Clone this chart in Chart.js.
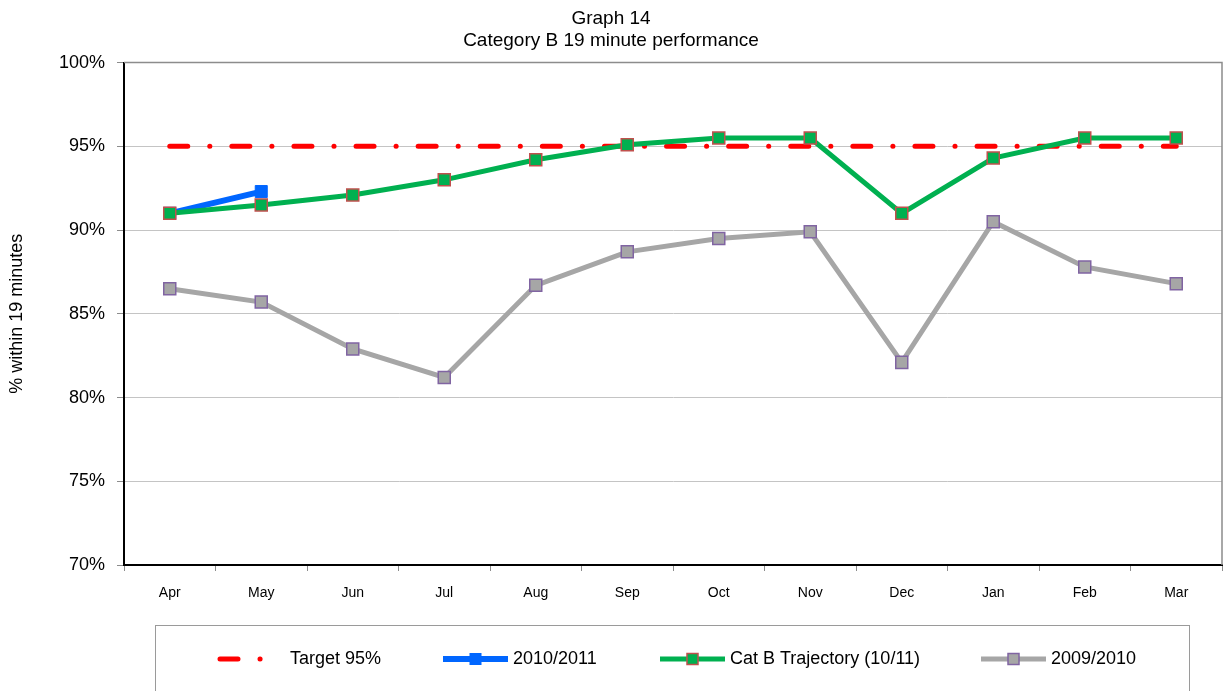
<!DOCTYPE html>
<html>
<head>
<meta charset="utf-8">
<script src="https://cdn.jsdelivr.net/npm/chart.js@4.4.1/dist/chart.umd.min.js"></script>
<style>
  html, body { margin: 0; padding: 0; background: #fff; }
  #wrap { width: 1224px; height: 691px; }
</style>
</head>
<body>
<div id="wrap"><canvas id="myChart" width="1224" height="691"></canvas></div>
<script>
// data
var months = ['Apr', 'May', 'Jun', 'Jul', 'Aug', 'Sep', 'Oct', 'Nov', 'Dec', 'Jan', 'Feb', 'Mar'];
var target = [95, 95, 95, 95, 95, 95, 95, 95, 95, 95, 95, 95];
var actual1011 = [91.0, 92.3, null, null, null, null, null, null, null, null, null, null];
var trajectory = [91.0, 91.5, 92.1, 93.0, 94.2, 95.1, 95.5, 95.5, 91.0, 94.3, 95.5, 95.5];
var actual0910 = [86.5, 85.7, 82.9, 81.2, 86.7, 88.7, 89.5, 89.9, 82.1, 90.5, 87.8, 86.8];
var yTicks = { min: 70, max: 100, step: 5 };

var FONT = 'Liberation Sans, Arial, sans-serif';

// frame + legend box drawn by hand (Excel style)
var excelBits = {
  id: 'excelBits',
  beforeDatasetsDraw: function(chart) {
    var a = chart.chartArea, c = chart.ctx;
    c.save();
    c.strokeStyle = '#8c8c8c';
    c.lineWidth = 1.5;
    c.beginPath();
    c.moveTo(a.left, a.top);
    c.lineTo(a.right, a.top);
    c.lineTo(a.right, a.bottom);
    c.stroke();
    c.restore();
  },
  afterDraw: function(chart) {
    var c = chart.ctx;
    c.save();
    c.strokeStyle = '#9a9a9a';
    c.lineWidth = 1;
    c.strokeRect(155.5, 625.5, 1034, 80);

    var starts = [220, 443, 660, 981];
    var y = 659;
    chart.data.datasets.forEach(function(ds, k) {
      var x0 = starts[k], x1 = x0 + 65;
      c.save();
      c.strokeStyle = ds.borderColor;
      c.lineWidth = ds.borderWidth;
      c.lineCap = ds.borderCapStyle || 'butt';
      c.setLineDash(ds.borderDash || []);
      c.beginPath();
      c.moveTo(x0, y);
      c.lineTo(ds.borderDash ? x0 + 44 : x1, y);
      c.stroke();
      c.restore();
      if (ds.pointRadius > 0) {
        var s = 5.5;
        c.fillStyle = ds.pointBackgroundColor;
        c.strokeStyle = ds.pointBorderColor;
        c.lineWidth = ds.pointBorderWidth;
        c.fillRect(x0 + 32.5 - s, y - s, 2 * s, 2 * s);
        c.strokeRect(x0 + 32.5 - s, y - s, 2 * s, 2 * s);
      }
      c.fillStyle = '#000';
      c.font = '18px ' + FONT;
      c.textBaseline = 'middle';
      c.fillText(ds.label, x1 + 5, y);
    });
    c.restore();
  }
};

const ctx = document.getElementById('myChart');

new Chart(ctx, {
  type: 'line',
  data: {
    labels: months,
    datasets: [{
      label: 'Target 95%',
      data: target,
      borderColor: '#ff0000',
      borderWidth: 5,
      borderDash: [18, 22, 0.1, 22],
      borderCapStyle: 'round',
      pointRadius: 0,
      order: 3
    }, {
      label: '2010/2011',
      data: actual1011,
      borderColor: '#0066ff',
      borderWidth: 6,
      pointStyle: 'rect',
      pointRadius: 8.5,
      pointBackgroundColor: '#0066ff',
      pointBorderColor: '#0066ff',
      pointBorderWidth: 1,
      order: 2
    }, {
      label: 'Cat B Trajectory (10/11)',
      data: trajectory,
      borderColor: '#00b050',
      borderWidth: 5,
      pointStyle: 'rect',
      pointRadius: 8.5,
      pointBackgroundColor: '#00b050',
      pointBorderColor: '#c0504d',
      pointBorderWidth: 1.5,
      order: 1
    }, {
      label: '2009/2010',
      data: actual0910,
      borderColor: '#a6a6a6',
      borderWidth: 5,
      pointStyle: 'rect',
      pointRadius: 8.5,
      pointBackgroundColor: '#a6a6a6',
      pointBorderColor: '#8064a2',
      pointBorderWidth: 1.5,
      order: 4
    }]
  },
  options: {
    responsive: false,
    animation: false,
    layout: { autoPadding: false, padding: { left: 0, right: 2, top: 0, bottom: 86 } },
    plugins: {
      legend: { display: false },
      tooltip: { enabled: false },
      title: {
        display: true,
        text: ['Graph 14', 'Category B 19 minute performance'],
        color: '#000',
        font: { family: FONT, size: 19, weight: 'normal', lineHeight: 1.2 },
        padding: { top: 7, bottom: 10 }
      }
    },
    scales: {
      x: {
        offset: true,
        grid: {
          offset: true,
          drawOnChartArea: false,
          drawTicks: true,
          tickLength: 6,
          tickColor: '#8c8c8c'
        },
        border: { color: '#000', width: 2 },
        ticks: { color: '#000', font: { family: FONT, size: 14 }, padding: 14, maxRotation: 0 },
        afterFit: function(scale) {
          scale.height = 40;
          scale.paddingLeft = 0;
          scale.paddingRight = 0;
        }
      },
      y: {
        min: yTicks.min,
        max: yTicks.max,
        grid: {
          color: '#c4c4c4',
          lineWidth: 1,
          borderDash: [1, 1],
          tickLength: 7,
          tickColor: '#8c8c8c',
          tickBorderDash: []
        },
        border: { color: '#000', width: 2 },
        ticks: {
          stepSize: yTicks.step,
          color: '#000',
          font: { family: FONT, size: 18 },
          padding: 12,
          callback: function(v) { return v + '%'; }
        },
        title: {
          display: true,
          text: '% within 19 minutes',
          color: '#000',
          font: { family: FONT, size: 18 },
          padding: { top: 6, bottom: 0 }
        },
        afterFit: function(scale) { scale.width = 124; }
      }
    }
  },
  plugins: [excelBits]
});
</script>
</body>
</html>
